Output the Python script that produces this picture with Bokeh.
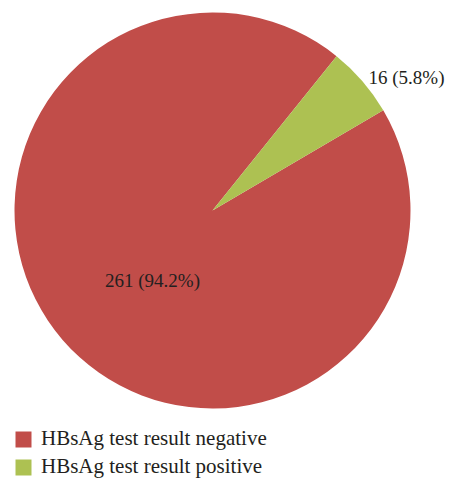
import math
from bokeh.plotting import figure
from bokeh.models import Range1d, ColumnDataSource, Legend, LegendItem
from bokeh.core.properties import value
from bokeh.embed import file_html
from bokeh.resources import INLINE

categories = ["HBsAg test result negative", "HBsAg test result positive"]
counts = [261, 16]
percents = [94.2, 5.8]
colors = ["#C14D49", "#ADC152"]

W, H = 449, 479
p = figure(width=W, height=H, output_backend="svg", toolbar_location=None,
           x_range=Range1d(0, W), y_range=Range1d(0, H), min_border=0)
p.axis.visible = False
p.grid.visible = False
p.outline_line_color = None

cx, cy, r = 212, 269, 198
start0 = math.radians(51.2)
total = sum(counts)
starts, ends = [], []
acc = start0
for c in counts:
    starts.append(acc)
    acc += 2 * math.pi * c / total
    ends.append(acc)

src = ColumnDataSource(dict(start=starts, end=ends, color=colors, cat=categories,
                            x=[cx] * len(counts), y=[cy] * len(counts)))
rend = p.wedge(x="x", y="y", radius=r, start_angle="start", end_angle="end",
               direction="anticlock", fill_color="color", line_color=None, source=src)

labels = [f"{c} ({pc}%)" for c, pc in zip(counts, percents)]
lx = [152, 368]
ly = [199, 402]
aligns = ["center", "left"]
for t, x, y, a in zip(labels, lx, ly, aligns):
    p.text(x=[x], y=[y], text=[t], text_font=value("Liberation Serif"),
           text_font_size="19px", text_color="#231F20", text_align=a,
           text_baseline="middle")

legend = Legend(items=[LegendItem(label=categories[i], renderers=[rend], index=i)
                       for i in range(len(categories))],
                location=(13, 0), orientation="vertical",
                glyph_width=20, glyph_height=20, label_standoff=8,
                label_text_font="Liberation Serif", label_text_font_size="21px",
                label_text_color="#231F20", padding=0, margin=0, spacing=3,
                border_line_color=None, background_fill_alpha=0)
p.add_layout(legend)

open("out.html", "w").write(file_html(p, INLINE))
